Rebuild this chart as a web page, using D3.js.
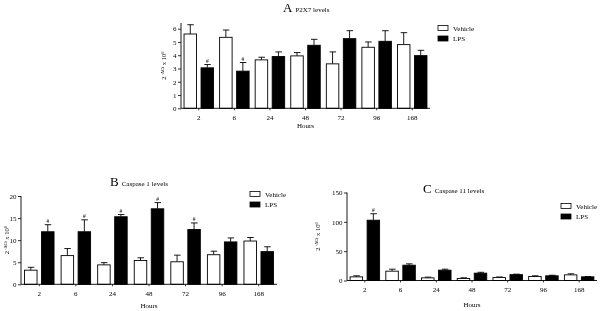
<!DOCTYPE html>
<html>
<head>
<meta charset="utf-8">
<script src="https://cdn.jsdelivr.net/npm/d3@7"></script>
<style>
  body { margin: 0; background: #fff; }
  svg { display: block; font-family: "Liberation Serif", "DejaVu Serif", serif; will-change: transform; }
  text { fill: #000; }
</style>
</head>
<body>
<svg id="fig" width="600" height="311"></svg>
<script>
// time points (hours)
var hours = ["2", "6", "24", "48", "72", "96", "168"];
var seriesNames = ["Vehicle", "LPS"];

// A - P2X7
var p2x7Vehicle    = [5.6, 5.35, 3.65, 3.95, 3.35, 4.6, 4.8];
var p2x7VehicleErr = [0.7, 0.55, 0.2, 0.25, 0.9, 0.4, 0.9];
var p2x7Lps        = [3.05, 2.8, 3.9, 4.75, 5.25, 5.05, 3.97];
var p2x7LpsErr     = [0.25, 0.65, 0.35, 0.45, 0.6, 0.8, 0.4];
var p2x7Sig        = ["2", "6"];
var p2x7Ticks      = [0, 1, 2, 3, 4, 5, 6];

// B - Caspase 1
var casp1Vehicle    = [3.2, 6.5, 4.4, 5.4, 5.1, 6.7, 9.8];
var casp1VehicleErr = [0.65, 1.6, 0.5, 0.6, 1.5, 0.8, 0.8];
var casp1Lps        = [11.9, 11.9, 15.3, 17.1, 12.4, 9.6, 7.4];
var casp1LpsErr     = [1.6, 2.7, 0.5, 1.4, 1.5, 0.9, 1.1];
var casp1Sig        = ["2", "6", "24", "48", "72"];
var casp1Ticks      = [0, 5, 10, 15, 20];

// C - Caspase 11
var casp11Vehicle    = [6.2, 15.9, 4.5, 3.4, 5, 6.8, 9.6];
var casp11VehicleErr = [1.8, 3.4, 1.2, 1.2, 1, 1.2, 1.8];
var casp11Lps        = [102.8, 26.1, 17.6, 12.5, 10, 8, 6.2];
var casp11LpsErr     = [11, 2.3, 1.7, 1.5, 0.8, 1, 0.6];
var casp11Sig        = ["2"];
var casp11Ticks      = [0, 50, 100, 150];

var svg = d3.select("#fig");

function drawPanel(p) {
  var g = svg.append("g");

  var x0 = d3.scaleBand().domain(hours).range([p.x0, p.x1]).paddingInner(0).paddingOuter(0);
  var inner = 4.5;
  var barW = 12.5;
  var x1 = function(k) {
    var c = x0(hours[k.i]) + x0.bandwidth() / 2;
    return k.s == 0 ? c - inner / 2 - barW : c + inner / 2;
  };
  var y = d3.scaleLinear().domain([0, p.yMax]).range([p.yBase, p.yTop]);

  var rows = [];
  hours.forEach(function(h, i) {
    rows.push({i: i, s: 0, v: p.vehicle[i], e: p.vehicleErr[i], h: h});
    rows.push({i: i, s: 1, v: p.lps[i], e: p.lpsErr[i], h: h});
  });

  // error bars (upper half only)
  var eb = g.selectAll(".err").data(rows).enter().append("g");
  eb.append("line")
    .attr("x1", function(d) { return x1(d) + barW / 2; })
    .attr("x2", function(d) { return x1(d) + barW / 2; })
    .attr("y1", function(d) { return y(d.v); })
    .attr("y2", function(d) { return y(d.v + d.e); })
    .attr("stroke", "#000").attr("stroke-width", 0.9);
  eb.append("line")
    .attr("x1", function(d) { return x1(d) + barW / 2 - 3; })
    .attr("x2", function(d) { return x1(d) + barW / 2 + 3.5; })
    .attr("y1", function(d) { return y(d.v + d.e); })
    .attr("y2", function(d) { return y(d.v + d.e); })
    .attr("stroke", "#000").attr("stroke-width", 0.9);

  // bars
  g.selectAll(".bar").data(rows).enter().append("rect")
    .attr("x", function(d) { return x1(d); })
    .attr("y", function(d) { return y(d.v); })
    .attr("width", barW)
    .attr("height", function(d) { return y(0) - y(d.v); })
    .attr("fill", function(d) { return d.s == 0 ? "#fff" : "#000"; })
    .attr("stroke", "#000").attr("stroke-width", 0.9);

  // significance marks
  g.selectAll(".sig").data(rows.filter(function(d) { return d.s == 1 && p.sig.indexOf(d.h) >= 0; }))
    .enter().append("text")
    .attr("x", function(d) { return x1(d) + barW / 2; })
    .attr("y", function(d) { return y(d.v + d.e) - 1.5; })
    .attr("text-anchor", "middle")
    .style("font-size", "5.5px")
    .text("#");

  // y axis
  var yAxis = g.append("g")
    .attr("transform", "translate(" + p.x0 + ",0)")
    .call(d3.axisLeft(y).tickValues(p.ticks).tickFormat(d3.format("d")).tickSize(3).tickPadding(1.5));
  yAxis.select(".domain").attr("d", "M0," + y(0) + "V" + p.axisTop).attr("stroke-width", 0.9);
  yAxis.selectAll("text").style("font-size", "7px").style("font-family", "Liberation Serif");
  yAxis.selectAll(".tick line").attr("stroke-width", 0.8);

  // x axis
  var xAxis = g.append("g")
    .attr("transform", "translate(0," + y(0) + ")")
    .call(d3.axisBottom(x0).tickSize(2).tickPadding(5));
  xAxis.select(".domain").attr("d", "M" + p.x0 + ",0H" + p.x1).attr("stroke-width", 0.9);
  xAxis.selectAll("text").style("font-size", "7px").style("font-family", "Liberation Serif");
  xAxis.selectAll(".tick line").attr("stroke-width", 0.8);

  // axis titles
  g.append("text")
    .attr("x", (p.x0 + p.x1) / 2).attr("y", p.hoursY)
    .attr("text-anchor", "middle")
    .style("font-size", "7px")
    .text("Hours");

  var yl = g.append("text")
    .attr("transform", "translate(" + p.ylabX + "," + ((y(0) + p.axisTop) / 2) + ") rotate(-90)")
    .attr("text-anchor", "middle")
    .style("font-size", "6.5px");
  yl.append("tspan").text("2");
  yl.append("tspan").attr("dy", -2.5).style("font-size", "4.5px").text(" -\u0394Ct");
  yl.append("tspan").attr("dy", 2.5).text(" x 10");
  yl.append("tspan").attr("dy", -2.5).style("font-size", "4.5px").text("6");

  // panel title
  var t = g.append("text").attr("x", p.titleX).attr("y", p.titleY);
  t.append("tspan").style("font-size", "13px").text(p.letter);
  t.append("tspan").attr("dx", 3).style("font-size", "7px").text(p.title);

  // legend
  var lg = g.append("g").attr("transform", "translate(" + p.legX + "," + p.legY + ")");
  seriesNames.forEach(function(n, i) {
    lg.append("rect")
      .attr("x", 0).attr("y", i * 10.5)
      .attr("width", 10).attr("height", 5)
      .attr("fill", i == 0 ? "#fff" : "#000")
      .attr("stroke", "#000").attr("stroke-width", 0.8);
    lg.append("text")
      .attr("x", 15).attr("y", i * 10.5 + 5)
      .style("font-size", "7px")
      .text(n);
  });
}

drawPanel({
  letter: "A", title: "P2X7 levels", titleX: 283, titleY: 12,
  vehicle: p2x7Vehicle, vehicleErr: p2x7VehicleErr, lps: p2x7Lps, lpsErr: p2x7LpsErr,
  sig: p2x7Sig, ticks: p2x7Ticks,
  x0: 181, x1: 430, yBase: 108.3, yTop: 28.7, yMax: 6, axisTop: 23,
  hoursY: 128, ylabX: 166, legX: 438, legY: 25.5
});

drawPanel({
  letter: "B", title: "Caspase 1 levels", titleX: 110, titleY: 186,
  vehicle: casp1Vehicle, vehicleErr: casp1VehicleErr, lps: casp1Lps, lpsErr: casp1LpsErr,
  sig: casp1Sig, ticks: casp1Ticks,
  x0: 21, x1: 277, yBase: 284.3, yTop: 196, yMax: 20, axisTop: 196,
  hoursY: 308, ylabX: 9, legX: 250, legY: 191.5
});

drawPanel({
  letter: "C", title: "Caspase 11 levels", titleX: 423, titleY: 193,
  vehicle: casp11Vehicle, vehicleErr: casp11VehicleErr, lps: casp11Lps, lpsErr: casp11LpsErr,
  sig: casp11Sig, ticks: casp11Ticks,
  x0: 347, x1: 597, yBase: 280.5, yTop: 192.5, yMax: 150, axisTop: 192.5,
  hoursY: 307, ylabX: 320, legX: 561, legY: 203.5
});
</script>
</body>
</html>
